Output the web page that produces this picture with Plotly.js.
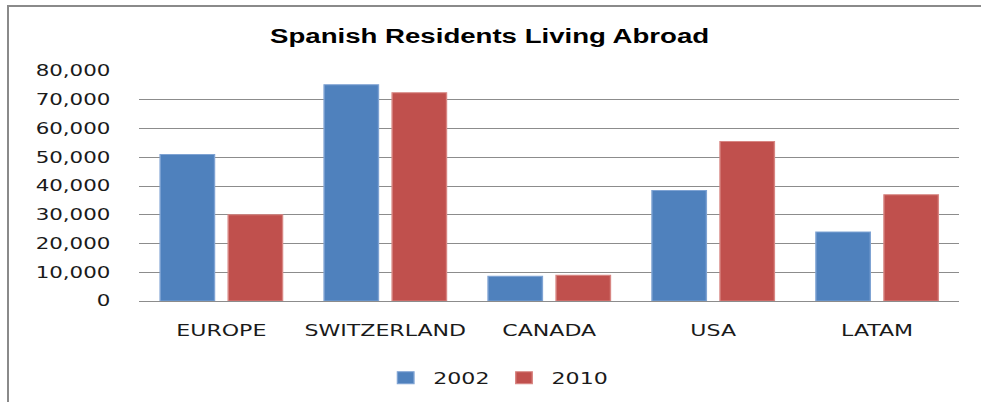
<!DOCTYPE html>
<html>
<head>
<meta charset="utf-8">
<script src="https://cdn.plot.ly/plotly-3.0.1.min.js"></script>
<style>
  html, body { margin: 0; padding: 0; background: #fff; }
  #wrap { position: relative; width: 981px; height: 402px; overflow: hidden; }
  /* The reference is a horizontally stretched chart: draw it narrower and stretch it the same way */
  #chart { position: absolute; left: 0; top: 0; width: 711px; height: 402px;
           transform: scaleX(1.38); transform-origin: 0 0; }
  #frame { position: absolute; left: 7px; top: 5px; width: 1100px; height: 600px;
           border-left: 2px solid #8a8a8a; border-top: 2px solid #8a8a8a; pointer-events: none; }
</style>
</head>
<body>
<div id="wrap">
  <div id="chart"></div>
  <div id="frame"></div>
</div>
<script>
const categories = ['EUROPE', 'SWITZERLAND', 'CANADA', 'USA', 'LATAM'];
const series2002 = [51000, 75200, 8600, 38400, 24000];
const series2010 = [30000, 72400, 9000, 55500, 37000];
const seriesNames = ['2002', '2010'];
const yTickVals = [0, 10000, 20000, 30000, 40000, 50000, 60000, 70000, 80000];
const yTickText = ['0', '10,000', '20,000', '30,000', '40,000', '50,000', '60,000', '70,000', '80,000'];
const chartTitle = 'Spanish Residents Living Abroad';

const traces = [
  { type: 'bar', name: seriesNames[0], x: categories, y: series2002,
    marker: { color: '#4F81BD', line: { color: '#7FA3D3', width: 1 } } },
  { type: 'bar', name: seriesNames[1], x: categories, y: series2010,
    marker: { color: '#C0504D', line: { color: '#D88683', width: 1 } } }
];

const layout = {
  width: 711, height: 402,
  margin: { l: 100.7, r: 16.1, t: 70.5, b: 100.5, autoexpand: false },
  paper_bgcolor: '#ffffff', plot_bgcolor: '#ffffff',
  font: { family: 'DejaVu Sans, Verdana, sans-serif', color: '#1a1a1a', size: 15 },
  title: { text: chartTitle, font: { family: 'Liberation Sans, Arial, sans-serif', size: 20, weight: 'bold', color: '#000' },
           x: 0.499, xref: 'container', xanchor: 'center', y: 0.911, yref: 'container', yanchor: 'middle' },
  barmode: 'group', bargap: 0.17, bargroupgap: 0.2,
  showlegend: true,
  legend: { orientation: 'h', x: 0.436, xanchor: 'center', y: 0.06, yref: 'container', yanchor: 'middle',
            font: { size: 16, color: '#1a1a1a' }, itemwidth: 30, traceorder: 'normal' },
  xaxis: { type: 'category', showgrid: false, showline: false, zeroline: false, automargin: false,
           ticks: '', tickfont: { size: 16 }, ticklabelstandoff: 18, fixedrange: true },
  yaxis: { range: [0, 80000], tickvals: yTickVals, ticktext: yTickText, automargin: false,
           showgrid: true, gridcolor: '#8c8c8c', gridwidth: 1,
           zeroline: true, zerolinecolor: '#8c8c8c', zerolinewidth: 1,
           showline: false, ticks: '', tickfont: { size: 15.5 }, ticklabelstandoff: 20, fixedrange: true }
};

Plotly.newPlot('chart', traces, layout, { displayModeBar: false, staticPlot: true });
</script>
</body>
</html>
